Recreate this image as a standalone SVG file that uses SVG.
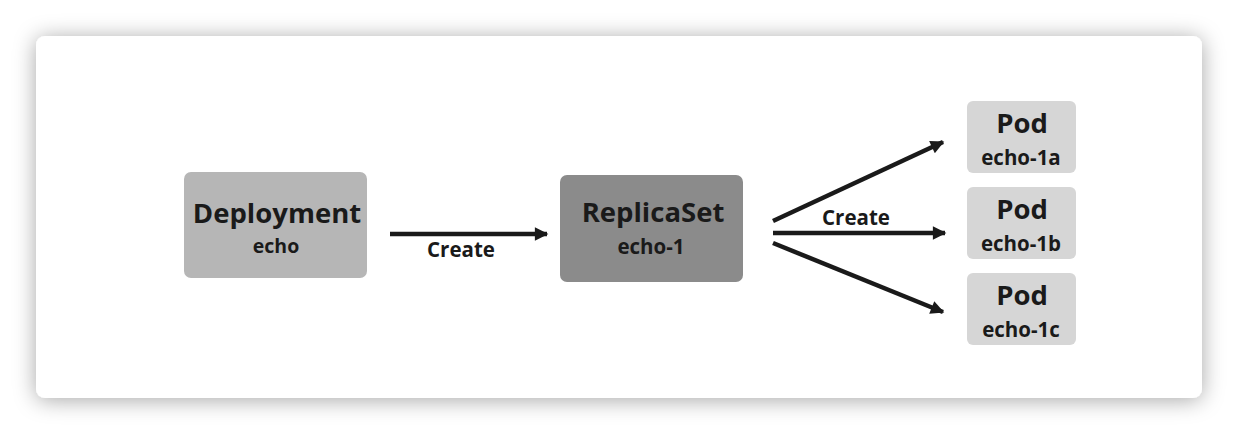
<svg xmlns="http://www.w3.org/2000/svg" width="1238" height="434" viewBox="0 0 1238 434">
<defs>
<filter id="sh" x="-10%" y="-20%" width="120%" height="140%">
<feDropShadow dx="0" dy="2" stdDeviation="11" flood-color="#000" flood-opacity="0.35"/>
</filter>
<marker id="ah" viewBox="0 0 10 10" refX="9" refY="5" markerWidth="5" markerHeight="3" orient="auto" markerUnits="strokeWidth">
<path d="M0,0 L10,5 L0,10 Z" fill="#1a1a1a"/>
</marker>
<style>
.t1{font-family:"Open Sans",Lato,"DejaVu Sans",sans-serif;font-weight:bold;fill:#1a1a1a;text-anchor:middle}
.big{font-size:27.5px}
.small{font-size:20.5px}
.lbl{font-family:"Open Sans",Lato,"DejaVu Sans",sans-serif;font-weight:bold;fill:#1a1a1a;text-anchor:middle;font-size:20.5px}
.c{stroke:#1a1a1a;stroke-width:4.5;fill:none;marker-end:url(#ah)}
</style>
</defs>
<rect width="1238" height="434" fill="#fff"/>
<rect x="36" y="36" width="1166" height="362" rx="9" fill="#fff" filter="url(#sh)"/>
<g id="deployment">
<rect x="184" y="172" width="183" height="106" rx="7" fill="#b6b6b6"/>
<text class="t1 big" x="277" y="223">Deployment</text>
<text class="t1 small" x="276" y="253" style="font-size:19.5px">echo</text>
</g>
<g id="replicaset">
<rect x="560" y="175" width="183" height="107" rx="7" fill="#8b8b8b"/>
<text class="t1 big" x="653" y="222">ReplicaSet</text>
<text class="t1 small" x="651" y="254">echo-1</text>
</g>
<g id="pod-a">
<rect x="967" y="101" width="109" height="72" rx="6" fill="#d6d6d6"/>
<text class="t1 big" x="1022" y="133">Pod</text>
<text class="t1 small" x="1021" y="165">echo-1a</text>
</g>
<g id="pod-b">
<rect x="967" y="187" width="109" height="72" rx="6" fill="#d6d6d6"/>
<text class="t1 big" x="1022" y="219">Pod</text>
<text class="t1 small" x="1021" y="251">echo-1b</text>
</g>
<g id="pod-c">
<rect x="967" y="273" width="109" height="72" rx="6" fill="#d6d6d6"/>
<text class="t1 big" x="1022" y="305">Pod</text>
<text class="t1 small" x="1021" y="337">echo-1c</text>
</g>
<g id="connectors">
<line class="c" x1="390" y1="234" x2="547" y2="234"/>
<text class="lbl" x="461" y="257">Create</text>
<line class="c" x1="773" y1="221" x2="943" y2="142"/>
<line class="c" x1="773" y1="233" x2="945" y2="233"/>
<line class="c" x1="773" y1="243" x2="943" y2="312"/>
<text class="lbl" x="856" y="225">Create</text>
</g>
</svg>
